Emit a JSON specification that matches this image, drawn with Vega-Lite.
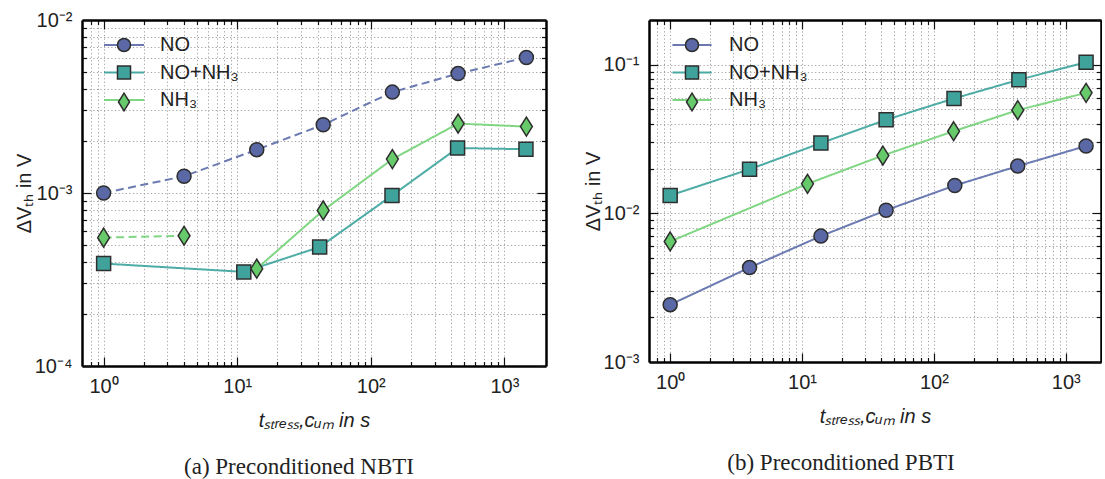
{
  "$schema": "https://vega.github.io/schema/vega-lite/v6.json",
  "padding": {"left": 14, "top": 10, "right": 0, "bottom": 0},
  "spacing": 36,
  "datasets": {
    "nbti": [
      {"series": "NO", "group": "NO", "kind": "k2", "t": 1, "dv": 0.00100},
      {"series": "NO", "group": "NO", "kind": "k2", "t": 4, "dv": 0.00125},
      {"series": "NO", "group": "NO", "kind": "k2", "t": 14, "dv": 0.00178},
      {"series": "NO", "group": "NO", "kind": "k2", "t": 44, "dv": 0.00248},
      {"series": "NO", "group": "NO", "kind": "k2", "t": 145, "dv": 0.00383},
      {"series": "NO", "group": "NO", "kind": "k2", "t": 450, "dv": 0.00490},
      {"series": "NO", "group": "NO", "kind": "k2", "t": 1460, "dv": 0.00607},
      {"series": "NO+NH₃", "group": "NONH3", "kind": "k1", "t": 1, "dv": 0.000391},
      {"series": "NO+NH₃", "group": "NONH3", "kind": "k1", "t": 11.2, "dv": 0.000350},
      {"series": "NO+NH₃", "group": "NONH3", "kind": "k1", "t": 41.4, "dv": 0.000487},
      {"series": "NO+NH₃", "group": "NONH3", "kind": "k1", "t": 144, "dv": 0.000967},
      {"series": "NO+NH₃", "group": "NONH3", "kind": "k1", "t": 446, "dv": 0.00182},
      {"series": "NO+NH₃", "group": "NONH3", "kind": "k1", "t": 1449, "dv": 0.00179},
      {"series": "NH₃", "group": "NH3a", "kind": "k2", "t": 1, "dv": 0.000552},
      {"series": "NH₃", "group": "NH3a", "kind": "k2", "t": 4, "dv": 0.000566},
      {"series": "NH₃", "group": "NH3b", "kind": "k1", "t": 14, "dv": 0.000365},
      {"series": "NH₃", "group": "NH3b", "kind": "k1", "t": 44, "dv": 0.000793},
      {"series": "NH₃", "group": "NH3b", "kind": "k1", "t": 145, "dv": 0.00157},
      {"series": "NH₃", "group": "NH3b", "kind": "k1", "t": 450, "dv": 0.00252},
      {"series": "NH₃", "group": "NH3b", "kind": "k1", "t": 1460, "dv": 0.00242}
    ],
    "pbti": [
      {"series": "NO", "group": "NO", "kind": "k1", "t": 1, "dv": 0.00243},
      {"series": "NO", "group": "NO", "kind": "k1", "t": 4, "dv": 0.00432},
      {"series": "NO", "group": "NO", "kind": "k1", "t": 13.9, "dv": 0.00703},
      {"series": "NO", "group": "NO", "kind": "k1", "t": 43.4, "dv": 0.0105},
      {"series": "NO", "group": "NO", "kind": "k1", "t": 144, "dv": 0.0154},
      {"series": "NO", "group": "NO", "kind": "k1", "t": 432, "dv": 0.0208},
      {"series": "NO", "group": "NO", "kind": "k1", "t": 1425, "dv": 0.0284},
      {"series": "NO+NH₃", "group": "NONH3", "kind": "k1", "t": 1, "dv": 0.0132},
      {"series": "NO+NH₃", "group": "NONH3", "kind": "k1", "t": 4, "dv": 0.0198},
      {"series": "NO+NH₃", "group": "NONH3", "kind": "k1", "t": 13.9, "dv": 0.0297},
      {"series": "NO+NH₃", "group": "NONH3", "kind": "k1", "t": 43.4, "dv": 0.0426},
      {"series": "NO+NH₃", "group": "NONH3", "kind": "k1", "t": 142, "dv": 0.0593},
      {"series": "NO+NH₃", "group": "NONH3", "kind": "k1", "t": 441, "dv": 0.0792},
      {"series": "NO+NH₃", "group": "NONH3", "kind": "k1", "t": 1425, "dv": 0.104},
      {"series": "NH₃", "group": "NH3", "kind": "k1", "t": 1, "dv": 0.00647},
      {"series": "NH₃", "group": "NH3", "kind": "k1", "t": 11, "dv": 0.0158},
      {"series": "NH₃", "group": "NH3", "kind": "k1", "t": 41, "dv": 0.0245},
      {"series": "NH₃", "group": "NH3", "kind": "k1", "t": 141, "dv": 0.0357},
      {"series": "NH₃", "group": "NH3", "kind": "k1", "t": 432, "dv": 0.0495},
      {"series": "NH₃", "group": "NH3", "kind": "k1", "t": 1425, "dv": 0.0647}
    ]
  },
  "config": {
    "view": {"stroke": null},
    "font": "Liberation Sans",
    "axis": {
      "labelFont": "Liberation Sans", "labelFontSize": 20, "labelColor": "#222",
      "titleFont": "Liberation Sans", "titleFontSize": 20, "titleFontWeight": "normal", "titleColor": "#222",
      "tickColor": "#111", "tickWidth": 1.2,
      "domainColor": "#000", "domainWidth": 2.5,
      "gridColor": "#a0a0a0", "gridDash": [1.2, 2.4], "gridWidth": 1,
      "labelOverlap": false, "labelFlush": false
    },
    "legend": {"padding": 0, "titlePadding": 0}
  },
  "resolve": {"scale": {"stroke": "independent", "fill": "independent", "shape": "independent", "strokeDash": "independent"}},
  "hconcat": [
    {
      "width": 464, "height": 346,
      "data": {"name": "nbti"},
      "title": {"text": "(a) Preconditioned NBTI", "orient": "bottom", "frame": "group", "dx": -15, "offset": 25, "font": "Liberation Serif", "fontSize": 23, "fontWeight": "normal", "color": "#222"},
      "resolve": {"axis": {"x": "independent", "y": "independent"}},
      "layer": [
        {
          "mark": {"type": "line", "strokeWidth": 2, "opacity": 0.9},
          "encoding": {
            "x": {"field": "t", "type": "quantitative",
              "scale": {"type": "log", "domain": [0.689, 2047], "nice": false},
              "axis": {"orient": "bottom", "grid": true,
                "values": [0.8,0.9,1,2,3,4,5,6,7,8,9,10,20,30,40,50,60,70,80,90,100,200,300,400,500,600,700,800,900,1000],
                "labelExpr": "abs(log(datum.value)/LN10 - round(log(datum.value)/LN10)) < 1e-6 ? ['10⁻⁴','10⁻³','10⁻²','10⁻¹','10⁰','10¹','10²','10³'][round(log(datum.value)/LN10)+4] : ''",
                "tickSize": {"condition": {"test": "abs(log(datum.value)/LN10 - round(log(datum.value)/LN10)) < 1e-6", "value": -9}, "value": -4.5},
                "labelPadding": 19,
                "title": "tₛₜᵣₑₛₛ,ᴄᵤₘ in s", "titleFontStyle": "italic", "titlePadding": 10}},
            "y": {"field": "dv", "type": "quantitative",
              "scale": {"type": "log", "domain": [0.0001, 0.01], "nice": false},
              "axis": {"orient": "left", "grid": true,
                "values": [0.0001,0.0002,0.0003,0.0004,0.0005,0.0006,0.0007,0.0008,0.0009,0.001,0.002,0.003,0.004,0.005,0.006,0.007,0.008,0.009,0.01],
                "labelExpr": "abs(log(datum.value)/LN10 - round(log(datum.value)/LN10)) < 1e-6 ? ['10⁻⁴','10⁻³','10⁻²','10⁻¹','10⁰','10¹','10²','10³'][round(log(datum.value)/LN10)+4] : ''",
                "tickSize": {"condition": {"test": "abs(log(datum.value)/LN10 - round(log(datum.value)/LN10)) < 1e-6", "value": -9}, "value": -4.5},
                "labelPadding": 19,
                "title": "ΔVₜₕ in V", "titlePadding": 0}},
            "stroke": {"field": "series", "type": "nominal",
              "scale": {"domain": ["NO", "NO+NH₃", "NH₃", "-"], "range": ["#5b6ba8", "#3aa39b", "#72d275", "#999999"]},
              "legend": {"values": ["NO", "NO+NH₃", "NH₃"], "orient": "none", "legendX": 10, "legendY": 15, "title": null, "symbolType": "M-3,0H3", "symbolSize": 178, "symbolStrokeWidth": 2, "symbolOffset": 22, "labelOffset": 26, "labelFontSize": 20, "labelFont": "Liberation Sans", "labelColor": "#222", "rowPadding": 7.5, "zindex": 1}},
            "strokeDash": {"field": "kind", "type": "nominal",
              "scale": {"domain": ["k1", "k2"], "range": [[1, 0], [8, 4.5]]}, "legend": null},
            "detail": {"field": "group"}
          }
        },
        {
          "mark": {"type": "point", "filled": true, "size": 196, "stroke": "#2e2e2e", "strokeWidth": 1.5, "opacity": 1},
          "encoding": {
            "x": {"field": "t", "type": "quantitative",
              "axis": {"orient": "top", "grid": false, "labels": false, "title": null,
                "values": [0.8,0.9,1,2,3,4,5,6,7,8,9,10,20,30,40,50,60,70,80,90,100,200,300,400,500,600,700,800,900,1000],
                "tickSize": {"condition": {"test": "abs(log(datum.value)/LN10 - round(log(datum.value)/LN10)) < 1e-6", "value": -9}, "value": -4.5}}},
            "y": {"field": "dv", "type": "quantitative",
              "axis": {"orient": "right", "grid": false, "labels": false, "title": null,
                "values": [0.0001,0.0002,0.0003,0.0004,0.0005,0.0006,0.0007,0.0008,0.0009,0.001,0.002,0.003,0.004,0.005,0.006,0.007,0.008,0.009,0.01],
                "tickSize": {"condition": {"test": "abs(log(datum.value)/LN10 - round(log(datum.value)/LN10)) < 1e-6", "value": -9}, "value": -4.5}}},
            "fill": {"field": "series", "type": "nominal",
              "scale": {"domain": ["NO", "NO+NH₃", "NH₃"], "range": ["#5a69a5", "#3fa39c", "#66c96a"]},
              "legend": {"orient": "none", "legendX": 10, "legendY": 15, "title": null, "symbolSize": 170, "symbolOffset": 22, "labelOffset": 26, "labelFontSize": 20, "labelOpacity": 0, "rowPadding": 7.5, "zindex": 2,
                "encode": {"symbols": {"stroke": {"value": "#2e2e2e"}, "strokeWidth": {"value": 1.5}}}}},
            "shape": {"field": "series", "type": "nominal",
              "scale": {"domain": ["NO", "NO+NH₃", "NH₃"], "range": ["circle", "square", "M0,-1.35L0.85,0L0,1.35L-0.85,0Z"]},
              "legend": {"orient": "none", "legendX": 10, "legendY": 15, "title": null, "symbolSize": 170, "symbolOffset": 22, "labelOffset": 26, "labelFontSize": 20, "labelOpacity": 0, "rowPadding": 7.5, "zindex": 2,
                "encode": {"symbols": {"stroke": {"value": "#2e2e2e"}, "strokeWidth": {"value": 1.5}}}}}
          }
        }
      ]
    },
    {
      "width": 452, "height": 342,
      "data": {"name": "pbti"},
      "title": {"text": "(b) Preconditioned PBTI", "orient": "bottom", "frame": "group", "dx": -34, "offset": 25, "font": "Liberation Serif", "fontSize": 23, "fontWeight": "normal", "color": "#222"},
      "resolve": {"axis": {"x": "independent", "y": "independent"}},
      "layer": [
        {
          "mark": {"type": "line", "strokeWidth": 2, "opacity": 0.9},
          "encoding": {
            "x": {"field": "t", "type": "quantitative",
              "scale": {"type": "log", "domain": [0.691, 1849], "nice": false},
              "axis": {"orient": "bottom", "grid": true,
                "values": [0.8,0.9,1,2,3,4,5,6,7,8,9,10,20,30,40,50,60,70,80,90,100,200,300,400,500,600,700,800,900,1000],
                "labelExpr": "abs(log(datum.value)/LN10 - round(log(datum.value)/LN10)) < 1e-6 ? ['10⁻⁴','10⁻³','10⁻²','10⁻¹','10⁰','10¹','10²','10³'][round(log(datum.value)/LN10)+4] : ''",
                "tickSize": {"condition": {"test": "abs(log(datum.value)/LN10 - round(log(datum.value)/LN10)) < 1e-6", "value": -9}, "value": -4.5},
                "labelPadding": 19,
                "title": "tₛₜᵣₑₛₛ,ᴄᵤₘ in s", "titleFontStyle": "italic", "titlePadding": 10}},
            "y": {"field": "dv", "type": "quantitative",
              "scale": {"type": "log", "domain": [0.001, 0.2], "nice": false},
              "axis": {"orient": "left", "grid": true,
                "values": [0.001,0.002,0.003,0.004,0.005,0.006,0.007,0.008,0.009,0.01,0.02,0.03,0.04,0.05,0.06,0.07,0.08,0.09,0.1,0.2],
                "labelExpr": "abs(log(datum.value)/LN10 - round(log(datum.value)/LN10)) < 1e-6 ? ['10⁻⁴','10⁻³','10⁻²','10⁻¹','10⁰','10¹','10²','10³'][round(log(datum.value)/LN10)+4] : ''",
                "tickSize": {"condition": {"test": "abs(log(datum.value)/LN10 - round(log(datum.value)/LN10)) < 1e-6", "value": -9}, "value": -4.5},
                "labelPadding": 19,
                "title": "ΔVₜₕ in V", "titlePadding": 0}},
            "stroke": {"field": "series", "type": "nominal",
              "scale": {"domain": ["NO", "NO+NH₃", "NH₃", "-"], "range": ["#5b6ba8", "#3aa39b", "#72d275", "#999999"]},
              "legend": {"values": ["NO", "NO+NH₃", "NH₃"], "orient": "none", "legendX": 10, "legendY": 15, "title": null, "symbolType": "M-3,0H3", "symbolSize": 170, "symbolStrokeWidth": 2, "symbolOffset": 23, "labelOffset": 27, "labelFontSize": 20, "labelFont": "Liberation Sans", "labelColor": "#222", "rowPadding": 7.5, "zindex": 1}},
            "strokeDash": {"field": "kind", "type": "nominal",
              "scale": {"domain": ["k1", "k2"], "range": [[1, 0], [8, 4.5]]}, "legend": null},
            "detail": {"field": "group"}
          }
        },
        {
          "mark": {"type": "point", "filled": true, "size": 196, "stroke": "#2e2e2e", "strokeWidth": 1.5, "opacity": 1},
          "encoding": {
            "x": {"field": "t", "type": "quantitative",
              "axis": {"orient": "top", "grid": false, "labels": false, "title": null,
                "values": [0.8,0.9,1,2,3,4,5,6,7,8,9,10,20,30,40,50,60,70,80,90,100,200,300,400,500,600,700,800,900,1000],
                "tickSize": {"condition": {"test": "abs(log(datum.value)/LN10 - round(log(datum.value)/LN10)) < 1e-6", "value": -9}, "value": -4.5}}},
            "y": {"field": "dv", "type": "quantitative",
              "axis": {"orient": "right", "grid": false, "labels": false, "title": null,
                "values": [0.001,0.002,0.003,0.004,0.005,0.006,0.007,0.008,0.009,0.01,0.02,0.03,0.04,0.05,0.06,0.07,0.08,0.09,0.1,0.2],
                "tickSize": {"condition": {"test": "abs(log(datum.value)/LN10 - round(log(datum.value)/LN10)) < 1e-6", "value": -9}, "value": -4.5}}},
            "fill": {"field": "series", "type": "nominal",
              "scale": {"domain": ["NO", "NO+NH₃", "NH₃"], "range": ["#5a69a5", "#3fa39c", "#66c96a"]},
              "legend": {"orient": "none", "legendX": 10, "legendY": 15, "title": null, "symbolSize": 170, "symbolOffset": 23, "labelOffset": 27, "labelFontSize": 20, "labelOpacity": 0, "rowPadding": 7.5, "zindex": 2,
                "encode": {"symbols": {"stroke": {"value": "#2e2e2e"}, "strokeWidth": {"value": 1.5}}}}},
            "shape": {"field": "series", "type": "nominal",
              "scale": {"domain": ["NO", "NO+NH₃", "NH₃"], "range": ["circle", "square", "M0,-1.35L0.85,0L0,1.35L-0.85,0Z"]},
              "legend": {"orient": "none", "legendX": 10, "legendY": 15, "title": null, "symbolSize": 170, "symbolOffset": 23, "labelOffset": 27, "labelFontSize": 20, "labelOpacity": 0, "rowPadding": 7.5, "zindex": 2,
                "encode": {"symbols": {"stroke": {"value": "#2e2e2e"}, "strokeWidth": {"value": 1.5}}}}}
          }
        }
      ]
    }
  ]
}
